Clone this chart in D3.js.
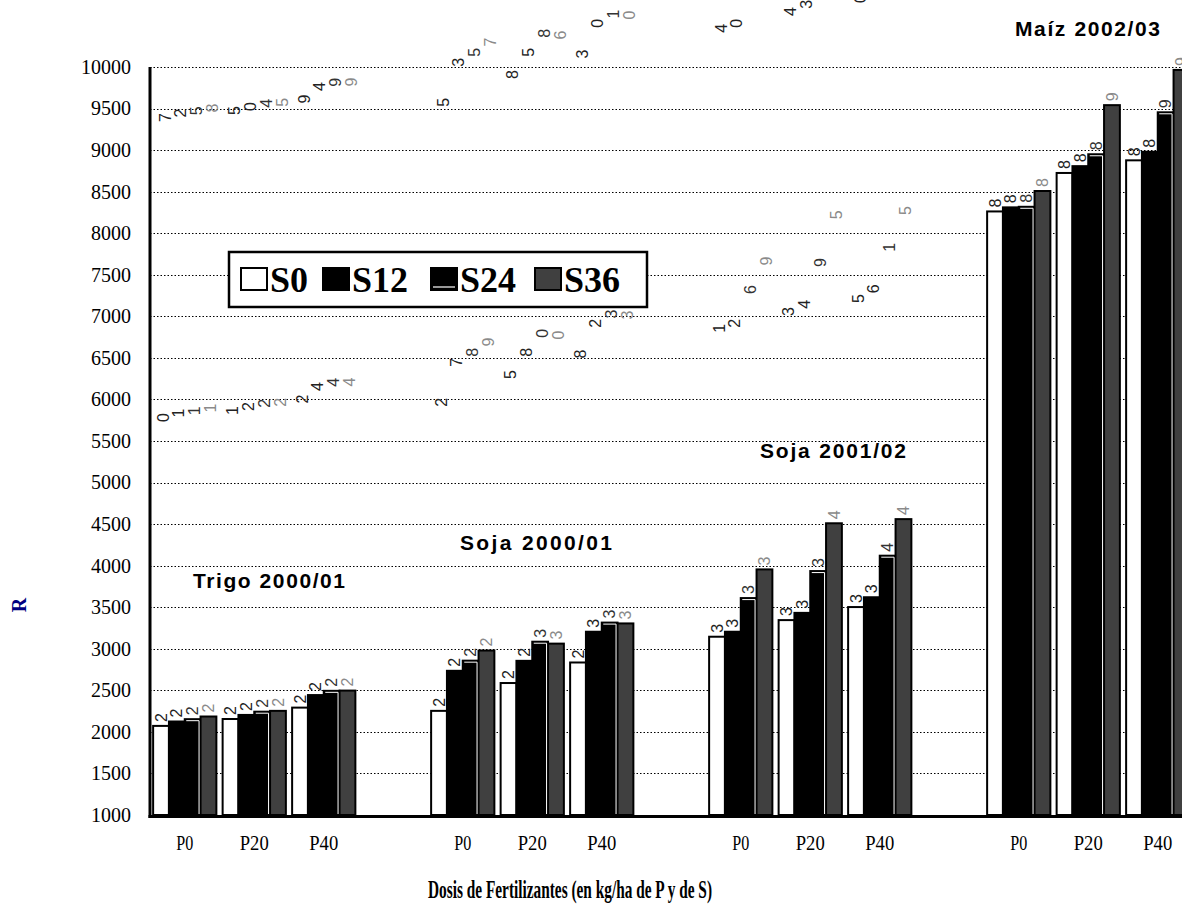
<!DOCTYPE html>
<html>
<head>
<meta charset="utf-8">
<script src="https://cdn.jsdelivr.net/npm/d3@7"></script>
<style>
    body { margin: 0; background: #fff; }
    svg { display: block; }
</style>
</head>
<body>
<svg id="chart"></svg>
<script>
// ---- data ----
const crops = ["Trigo 2000/01", "Soja 2000/01", "Soja 2001/02", "Maíz 2002/03"];
const doses = ["P0", "P20", "P40"];
const series = ["S0", "S12", "S24", "S36"];
const yTicks = d3.range(1000, 10001, 500);

// one value per crop x dose (Trigo P0..P40, Soja00 P0..P40, Soja01 P0..P40, Maiz P0..P40)
const s0Values  = [2072, 2155, 2292, 2253, 2588, 2835, 3145, 3345, 3502, 8262, 8725, 8877];
const s12Values = [2125, 2204, 2443, 2735, 2855, 3205, 3205, 3432, 3620, 8311, 8807, 8980];
const s24Values = [2153, 2243, 2494, 2857, 3085, 3315, 3610, 3935, 4120, 8318, 8950, 9455];
const s36Values = [2185, 2253, 2497, 2979, 3062, 3305, 3955, 4510, 4560, 8508, 9541, 9965];

const yLabel = "R";
const xLabel = "Dosis de Fertilizantes (en kg/ha de P y de S)";

// ---- layout ----
const width = 1182, height = 907;
const plot = {left: 150, top: 67, bottom: 815, right: 1182};
const fills = {S0: "#ffffff", S12: "#000000", S24: "#000000", S36: "#404040"};
const labelColors = {S0: "#222", S12: "#222", S24: "#333", S36: "#8a8a8a"};
const cropTitlePos = [[193, 588, 152], [460, 550, 152], [760, 458, 146], [1015, 36, 145]];
const legendBox = {x: 229, y: 252, w: 418, h: 55};
const legendItemX = [241, 323, 431, 535];

const valuesBySeries = {S0: s0Values, S12: s12Values, S24: s24Values, S36: s36Values};

// slots: 3 doses per crop + one empty slot after each crop
let slots = [];
crops.forEach((c, ci) => {
    doses.forEach(d => slots.push(ci + "|" + d));
    slots.push(ci + "|gap");
});

let rows = [];
crops.forEach((c, ci) => {
    doses.forEach((d, di) => {
        let i = ci * doses.length + di;
        rows.push({slot: ci + "|" + d, crop: c, dose: d,
            values: series.map(s => ({key: s, value: valuesBySeries[s][i]}))});
    });
});

const svg = d3.select("#chart")
    .attr("width", width)
    .attr("height", height)
    .style("font-family", "'Liberation Serif', 'Times New Roman', serif");

const xScale = d3.scaleBand()
    .domain(slots)
    .range([plot.left, plot.left + 16 * 69.5])
    .paddingInner(0.09)
    .paddingOuter(0.045);

const xSub = d3.scaleBand()
    .domain(series)
    .range([0, xScale.bandwidth()]);

const yScale = d3.scaleLinear()
    .domain([1000, 10000])
    .range([plot.bottom, plot.top]);

// gridlines
svg.append("g").attr("class", "grid")
    .selectAll("line")
    .data(yTicks.filter(t => t > 1000))
    .join("line")
    .attr("x1", plot.left)
    .attr("x2", plot.right)
    .attr("y1", d => Math.round(yScale(d)) + 0.5)
    .attr("y2", d => Math.round(yScale(d)) + 0.5)
    .attr("stroke", "#000")
    .attr("stroke-width", 1.2)
    .attr("stroke-dasharray", "1.5,2");

// y axis labels
const yAxis = d3.axisLeft(yScale)
    .tickValues(yTicks)
    .tickSize(0)
    .tickPadding(19)
    .tickFormat(d3.format("d"));

svg.append("g")
    .attr("transform", `translate(${plot.left},0)`)
    .call(yAxis)
    .call(g => g.select(".domain").remove())
    .call(g => g.selectAll("text")
        .attr("font-family", "'Liberation Serif', serif")
        .attr("font-size", 20)
        .attr("fill", "#000"));

// x axis labels
const xAxis = d3.axisBottom(xScale)
    .tickSize(0)
    .tickPadding(18)
    .tickFormat(d => d.endsWith("gap") ? "" : d.split("|")[1]);

svg.append("g")
    .attr("transform", `translate(0,${plot.bottom + 2})`)
    .call(xAxis)
    .call(g => g.select(".domain").remove())
    .call(g => g.selectAll("text")
        .attr("font-family", "'Liberation Serif', serif")
        .attr("font-size", 21)
        .attr("fill", "#000")
        .attr("textLength", d => d.endsWith("P0") ? 17 : 29)
        .attr("lengthAdjust", "spacingAndGlyphs"));

// bars
const groups = svg.append("g").attr("class", "bars")
    .selectAll("g")
    .data(rows)
    .join("g")
    .attr("transform", d => `translate(${xScale(d.slot)},0)`);

groups.selectAll("rect")
    .data(d => d.values)
    .join("rect")
    .attr("x", d => xSub(d.key))
    .attr("y", d => yScale(d.value))
    .attr("width", xSub.bandwidth())
    .attr("height", d => yScale(1000) - yScale(d.value))
    .attr("fill", d => fills[d.key])
    .attr("stroke", "#000")
    .attr("stroke-width", 2);

// S24 pattern edge (thin white line on top / right)
groups.selectAll("path.s24")
    .data(d => d.values.filter(v => v.key === "S24"))
    .join("path")
    .attr("class", "s24")
    .attr("d", d => {
        let x0 = xSub(d.key) + 1.5, x1 = xSub(d.key) + xSub.bandwidth() - 1.5;
        let y0 = yScale(d.value) + 1.5;
        return `M${x0},${y0}H${x1}V${yScale(1000) - 1}`;
    })
    .attr("fill", "none")
    .attr("stroke", "#fff")
    .attr("stroke-width", 1);

// data labels: every character rotated, each one stepping far up the chart
groups.each(function (row) {
    let g = d3.select(this);
    row.values.forEach(v => {
        let chars = String(v.value).split("");
        let cx = xSub(v.key) + xSub.bandwidth() / 2;
        chars.forEach((ch, k) => {
            let y = yScale(v.value) - 4 - k * 300;
            if (y < -20) return;
            g.append("text")
                .attr("transform", `translate(${cx + k * 2},${y}) rotate(-90)`)
                .attr("dy", "0.35em")
                .attr("font-family", "'Liberation Sans', Arial, sans-serif")
                .attr("font-size", 16)
                .attr("fill", labelColors[v.key])
                .text(ch);
        });
    });
});

// axis lines
svg.append("line")
    .attr("x1", plot.left).attr("x2", plot.left)
    .attr("y1", plot.top).attr("y2", plot.bottom + 3)
    .attr("stroke", "#000").attr("stroke-width", 3);
svg.append("line")
    .attr("x1", plot.left - 1.5).attr("x2", plot.right)
    .attr("y1", plot.bottom + 1.5).attr("y2", plot.bottom + 1.5)
    .attr("stroke", "#000").attr("stroke-width", 3);

// crop titles
svg.append("g").selectAll("text")
    .data(crops)
    .join("text")
    .attr("x", (d, i) => cropTitlePos[i][0])
    .attr("y", (d, i) => cropTitlePos[i][1])
    .attr("textLength", (d, i) => cropTitlePos[i][2])
    .attr("lengthAdjust", "spacing")
    .attr("font-family", "'Liberation Sans', Arial, sans-serif")
    .attr("font-weight", "700")
    .attr("font-size", 21)
    .attr("fill", "#000")
    .text(d => d);

// legend
const legend = svg.append("g").attr("class", "legend");
legend.append("rect")
    .attr("x", legendBox.x).attr("y", legendBox.y)
    .attr("width", legendBox.w).attr("height", legendBox.h)
    .attr("fill", "#fff").attr("stroke", "#000").attr("stroke-width", 2.5);

const items = legend.selectAll("g.item")
    .data(series)
    .join("g")
    .attr("class", "item")
    .attr("transform", (d, i) => `translate(${legendItemX[i]},${legendBox.y + 16})`);

items.append("rect")
    .attr("width", 26).attr("height", 22)
    .attr("fill", d => fills[d])
    .attr("stroke", "#000").attr("stroke-width", 2);

items.filter(d => d === "S24").append("line")
    .attr("x1", 2).attr("x2", 24).attr("y1", 19).attr("y2", 19)
    .attr("stroke", "#fff").attr("stroke-width", 1.2);

items.append("text")
    .attr("x", 29)
    .attr("y", 24)
    .attr("font-family", "'Liberation Serif', 'Times New Roman', serif")
    .attr("font-weight", "700")
    .attr("font-size", 36)
    .attr("fill", "#000")
    .text(d => d);

// axis titles
svg.append("text")
    .attr("transform", "translate(26,605) rotate(-90)")
    .attr("text-anchor", "middle")
    .attr("font-weight", "700")
    .attr("font-size", 20)
    .attr("fill", "#000080")
    .text(yLabel);

svg.append("text")
    .attr("x", 428)
    .attr("y", 898)
    .attr("textLength", 284)
    .attr("lengthAdjust", "spacingAndGlyphs")
    .attr("font-weight", "700")
    .attr("font-size", 26)
    .attr("fill", "#000")
    .text(xLabel);
</script>
</body>
</html>
